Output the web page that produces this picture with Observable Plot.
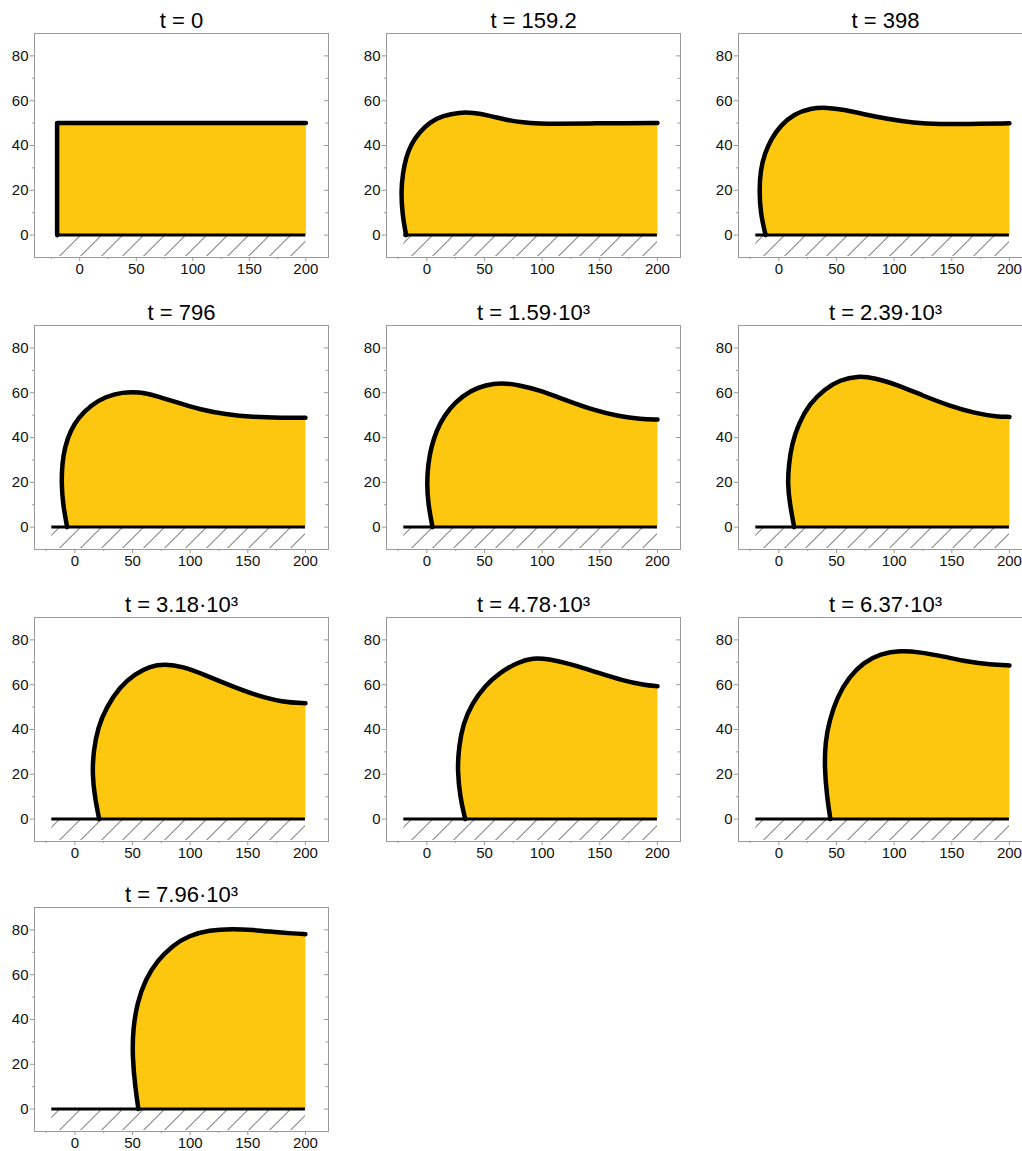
<!DOCTYPE html>
<html>
<head>
<meta charset="utf-8">
<script src="https://cdn.jsdelivr.net/npm/d3@7"></script>
<script src="https://cdn.jsdelivr.net/npm/@observablehq/plot@0.6"></script>
<style>
html, body { margin: 0; padding: 0; background: #fff; overflow: hidden; width: 1022px; height: 1151px; }
#grid { position: relative; width: 1022px; height: 1151px; overflow: hidden; background: #fff; }
.panel { position: absolute; }
</style>
</head>
<body>
<div id="grid"></div>
<script>
// ---- data ----
const titles = ["t = 0", "t = 159.2", "t = 398", "t = 796", "t = 1.59·10³", "t = 2.39·10³",
                "t = 3.18·10³", "t = 4.78·10³", "t = 6.37·10³", "t = 7.96·10³"];

const profile_t0 = [[-20, 0], [-20, 50], [200, 50]];
const profile_t159 = [[-18, 0], [-21.4, 9.6], [-22.3, 20], [-20.9, 27.4], [-18, 34.8], [-13.6, 40.7], [-6.4, 45.9],
  [2.3, 50.4], [13.9, 53.3], [28.4, 54.8], [40, 54.7], [54.5, 53.3], [69, 51.4], [83.5, 50.2], [98, 49.8],
  [112.5, 49.6], [141.4, 49.9], [170, 50], [200, 50]];
const profile_t398 = [[-11.5, 0], [-15.9, 9.6], [-17, 20], [-15.9, 28.9], [-12.4, 36.3], [-6.6, 43], [1.4, 48.9],
  [13, 54], [27.4, 56.7], [41.8, 57], [56.3, 56], [73.6, 54], [93.8, 51.9], [116.9, 50.1], [140, 49.5],
  [163, 49.6], [200, 49.9]];
const profile_t796 = [[-6.7, 0], [-10.4, 10.4], [-11.6, 19.3], [-11, 28.3], [-8.7, 35.7], [-3.8, 43.1], [3.5, 49.1],
  [13.6, 54.3], [26.7, 58.3], [41.2, 60.2], [55.7, 60.4], [70.1, 58.7], [87.5, 55.8], [107.8, 52.6], [131, 50.3],
  [154.2, 49.1], [180.3, 48.8], [200, 48.8]];
const profile_t1590 = [[4.9, 0], [1.1, 10.4], [0, 19.3], [1.1, 28.3], [3.8, 35.7], [8.3, 43.1], [15.2, 49.8],
  [24.6, 55.8], [37.9, 61], [51.1, 63.5], [64.4, 64.4], [79.5, 63.5], [98.5, 61], [121.2, 56.5], [143.9, 52.3],
  [166.7, 49.4], [185.6, 48.2], [200, 48]];
const profile_t2390 = [[13.3, 0], [9.5, 10.4], [7.6, 19.3], [8.7, 28.3], [11.4, 37.2], [17, 46.1], [26.5, 55],
  [39.8, 61.7], [53, 65.7], [68.2, 67.5], [83.3, 66.6], [102.3, 63.6], [125, 58.7], [147.7, 54.2], [170.5, 50.8],
  [189.4, 49.3], [200, 49.2]];
const profile_t3180 = [[21.1, 0], [17.3, 9.8], [15.1, 20.2], [16.2, 30.6], [20, 41], [27.5, 50], [38.8, 58.9],
  [52, 64.8], [65.2, 68.3], [78.3, 69.3], [93.4, 68.1], [112.2, 64.5], [134.8, 59.6], [157.4, 55.2], [180, 52.2],
  [200, 51.7]];
const profile_t4780 = [[33.3, 0], [28.8, 9.8], [26.5, 21.7], [27.7, 32.1], [31.4, 42.5], [39, 51.4], [50.4, 59.6],
  [63.6, 65.5], [78.8, 70], [92, 72], [105.3, 71.5], [124.2, 69.3], [146.9, 65.6], [169.7, 61.9], [188.6, 59.8],
  [200, 59.3]];
const profile_t6370 = [[44.7, 0], [41.8, 9.7], [39.5, 23.1], [40.4, 35], [43.9, 44], [50.5, 54.4], [60.6, 63.3],
  [73.6, 70], [88, 73.8], [105.3, 75.3], [122.7, 74.5], [142.9, 72.6], [163, 70.3], [183.3, 68.9], [200, 68.6]];
const profile_t7960 = [[55.1, 0], [52.2, 10.4], [49.9, 23.8], [50.4, 35.8], [54.2, 47.7], [61.4, 58.1], [71.6, 66.3],
  [84.6, 73], [99.1, 77.5], [116.5, 79.9], [136.8, 80.5], [154.2, 80], [174.5, 79], [189, 78.4], [200, 78.1]];

const profiles = [profile_t0, profile_t159, profile_t398, profile_t796, profile_t1590, profile_t2390,
                  profile_t3180, profile_t4780, profile_t6370, profile_t7960];

const groundStart = -20;
const groundEnd = 200;
const xTicks = [0, 50, 100, 150, 200];
const xMinorTicks = [-25, 25, 75, 125, 175];
const yTicks = [0, 20, 40, 60, 80];
const yMinorTicks = [10, 30, 50, 70];

// ---- drawing ----
const GOLD = "#FDC70F";
const FRAME = "#9a9a9a";
const W = 352, H = 292, ML = 34, MR = 24, MT = 33, MB = 35;
const FW = W - ML - MR;
const ROW_TOPS = [0, 292, 584, 874];

const grid = document.getElementById("grid");

profiles.forEach((prof, i) => {
  const pts = prof.map(([x, y]) => ({x, y}));
  const poly = pts.concat([{x: groundEnd, y: 0}]);
  const ground = [{x1: groundStart, x2: groundEnd, y: 0, yb: -10}];
  const curve = i === 0 ? "linear" : "basis";
  const xMin = i === 0 ? -40 : -35;

  const plot = Plot.plot({
    width: W, height: H,
    marginLeft: ML, marginRight: MR, marginTop: MT, marginBottom: MB,
    x: {domain: [xMin, 220], axis: null},
    y: {domain: [-10, 90], axis: null},
    style: {fontFamily: "'Liberation Sans', Arial, sans-serif", fontSize: "15px", color: "#111", background: "#fff"},
    marks: [
      Plot.rect(ground, {x1: "x1", x2: "x2", y1: "yb", y2: "y", insetBottom: 1, fill: `url(#hatch${i})`}),
      Plot.line(poly, {x: "x", y: "y", fill: GOLD, stroke: "none", curve: "linear"}),
      Plot.line(pts, {x: "x", y: "y", fill: GOLD, stroke: "none", curve}),
      Plot.ruleY(ground, {x1: "x1", x2: "x2", y: "y", stroke: "#000", strokeWidth: 3}),
      Plot.line(pts, {x: "x", y: "y", stroke: "#000", strokeWidth: 4.5, curve}),
      Plot.frame({stroke: FRAME}),
      Plot.axisY(yTicks, {anchor: "left", tickSize: 4, tickPadding: 2, stroke: FRAME, fill: "#111", label: null}),
      Plot.axisY(yMinorTicks, {anchor: "left", tickSize: 2, stroke: FRAME, tickFormat: () => "", label: null}),
      Plot.tickY(yTicks, {y: d => d, insetLeft: FW - 4, stroke: FRAME}),
      Plot.tickY(yMinorTicks, {y: d => d, insetLeft: FW - 2.5, stroke: FRAME}),
      Plot.axisX(xTicks, {anchor: "bottom", tickSize: 4, tickPadding: 2, stroke: FRAME, fill: "#111", label: null}),
      Plot.axisX(xMinorTicks, {anchor: "bottom", tickSize: 2, stroke: FRAME, tickFormat: () => "", label: null}),
      Plot.text([titles[i]], {text: d => d, frameAnchor: "top", dy: -6, lineAnchor: "bottom", fontSize: 22, fill: "#000"})
    ]
  });

  const svg = d3.select(plot);
  const defs = svg.insert("defs", ":first-child");
  const pat = defs.append("pattern")
    .attr("id", `hatch${i}`)
    .attr("patternUnits", "userSpaceOnUse")
    .attr("width", 14.85)
    .attr("height", 10)
    .attr("patternTransform", "rotate(45)");
  pat.append("line")
    .attr("x1", 0.5).attr("y1", 0).attr("x2", 0.5).attr("y2", 10)
    .attr("stroke", "#444").attr("stroke-width", 0.7);

  const col = i % 3, row = Math.floor(i / 3);
  plot.classList.add("panel");
  plot.style.left = (col * W) + "px";
  plot.style.top = ROW_TOPS[row] + "px";
  plot.style.maxWidth = "none";
  grid.appendChild(plot);
});
</script>
</body>
</html>
